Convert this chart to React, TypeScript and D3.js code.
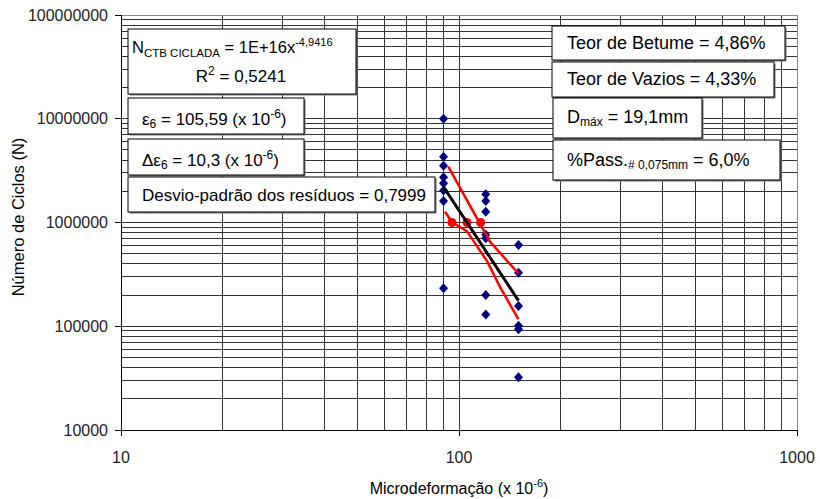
import React from "react";
import * as d3 from "d3";

// Fatigue test results: strain level (microstrain) and cycles to failure
const strain90 = [90, 90, 90, 90, 90, 90, 90, 90];
const cycles90 = [1.0e7, 4.3e6, 3.53e6, 2.73e6, 2.39e6, 2.03e6, 1.61e6, 2.32e5];
const strain120 = [120, 120, 120, 120, 120, 120, 120];
const cycles120 = [1.87e6, 1.61e6, 1.27e6, 7.6e5, 7.05e5, 2.0e5, 1.3e5];
const strain150 = [150, 150, 150, 150, 150, 150];
const cycles150 = [6.07e5, 3.28e5, 1.57e5, 1.01e5, 9.35e4, 3.22e4];

// Fitted power law N = a * x^b
const fitCoef = [1e16, -4.9416];
const fitRange = [90, 150];

// Confidence band limits
const upperBandX = [92.96, 123.5, 149.8];
const upperBandY = [3.45e6, 6.53e5, 3.24e5];
const lowerBandX = [90.9, 95.3, 105.5, 121.3, 132.2, 149.8];
const lowerBandY = [1.27e6, 1.01e6, 8.25e5, 4.2e5, 2.4e5, 1.17e5];

// Strain for 10^6 cycles and its deviation
const eps6 = 105.59;
const deltaEps6 = 10.3;

const xTicks = [10, 100, 1000];
const yTicks = [1e4, 1e5, 1e6, 1e7, 1e8];

const FONT = "'Liberation Sans', Arial, sans-serif";

const W = 820;
const H = 499;
const left = 121;
const right = 797;
const top = 15;
const bottom = 430;

function Box({ x, y, w, h }: { x: number; y: number; w: number; h: number }) {
  return (
    <g>
      <rect x={x + 1.5} y={y + 1.5} width={w} height={h} fill="#777" />
      <rect x={x} y={y} width={w} height={h} fill="#fff" stroke="#000" strokeWidth={1} />
    </g>
  );
}

export default function App() {
  const xScale = d3.scaleLog().domain([10, 1000]).range([left, right]);
  const yScale = d3.scaleLog().domain([1e4, 1e8]).range([bottom, top]);

  // log grid values
  const xGrid: number[] = [];
  for (let d = 10; d < 1000; d *= 10) for (let k = 1; k < 10; k++) xGrid.push(d * k);
  xGrid.push(1000);
  const yGrid: number[] = [];
  for (let d = 1e4; d < 1e8; d *= 10) for (let k = 1; k < 10; k++) yGrid.push(d * k);
  yGrid.push(1e8);

  const points = [
    ...strain90.map((s, i) => [s, cycles90[i]]),
    ...strain120.map((s, i) => [s, cycles120[i]]),
    ...strain150.map((s, i) => [s, cycles150[i]]),
  ];

  const line = d3
    .line<number[]>()
    .x((d) => xScale(d[0]))
    .y((d) => yScale(d[1]));

  const fitPts: number[][] = [];
  const steps = 40;
  for (let i = 0; i <= steps; i++) {
    const xv = fitRange[0] * Math.pow(fitRange[1] / fitRange[0], i / steps);
    fitPts.push([xv, fitCoef[0] * Math.pow(xv, fitCoef[1])]);
  }
  const upper = upperBandX.map((v, i) => [v, upperBandY[i]]);
  const lower = lowerBandX.map((v, i) => [v, lowerBandY[i]]);
  const epsDots = [eps6 - deltaEps6, eps6, eps6 + deltaEps6];

  const diamond = (cx: number, cy: number) =>
    `M${cx},${cy - 5}L${cx + 4.5},${cy}L${cx},${cy + 5}L${cx - 4.5},${cy}Z`;

  return (
    <svg
      width={W}
      height={H}
      style={{ position: "absolute", left: 0, top: 0, display: "block", background: "#fff" }}
      fontFamily={FONT}
    >
      {/* grid */}
      <g stroke="#333" strokeWidth={1} shapeRendering="crispEdges">
        {xGrid.map((v) => (
          <line key={"gx" + v} x1={xScale(v)} x2={xScale(v)} y1={top} y2={bottom} />
        ))}
        {yGrid.map((v) => (
          <line key={"gy" + v} x1={left} x2={right} y1={yScale(v)} y2={yScale(v)} />
        ))}
      </g>
      {/* frame */}
      <rect
        x={left}
        y={top}
        width={right - left}
        height={bottom - top}
        fill="none"
        stroke="#888"
        strokeWidth={1}
        shapeRendering="crispEdges"
      />
      <g stroke="#000" strokeWidth={1} shapeRendering="crispEdges">
        <line x1={left} x2={left} y1={top} y2={bottom} />
        <line x1={left} x2={right} y1={bottom} y2={bottom} />
        {yTicks.map((v) => (
          <line key={"ty" + v} x1={left - 6} x2={left} y1={yScale(v)} y2={yScale(v)} />
        ))}
        {xTicks.map((v) => (
          <line key={"tx" + v} x1={xScale(v)} x2={xScale(v)} y1={bottom} y2={bottom + 6} />
        ))}
      </g>

      {/* tick labels */}
      <g fontSize={16} fill="#222">
        {yTicks.map((v) => (
          <text key={"ly" + v} x={108} y={yScale(v)} textAnchor="end" dominantBaseline="central">
            {String(v)}
          </text>
        ))}
        {xTicks.map((v) => (
          <text key={"lx" + v} x={xScale(v)} y={463} textAnchor="middle">
            {String(v)}
          </text>
        ))}
      </g>

      {/* axis titles */}
      <text x={459} y={494} textAnchor="middle" fontSize={16} fill="#000">
        Microdeformação (x 10
        <tspan fontSize={11} dy={-7}>
          -6
        </tspan>
        <tspan dy={7}>)</tspan>
      </text>
      <text
        transform={`translate(24,217) rotate(-90)`}
        textAnchor="middle"
        fontSize={16.5}
        fill="#000"
      >
        Número de Ciclos (N)
      </text>

      {/* data points */}
      <g fill="#000080">
        {points.map((p, i) => (
          <path key={"p" + i} d={diamond(xScale(p[0]), yScale(p[1]))} />
        ))}
      </g>

      {/* confidence band and fit */}
      <path d={line(upper) || ""} fill="none" stroke="#ff0000" strokeWidth={2.5} />
      <path d={line(lower) || ""} fill="none" stroke="#ff0000" strokeWidth={2.5} />
      <g fill="#ff0000">
        {epsDots.map((v, i) => (
          <circle key={"e" + i} cx={xScale(v)} cy={yScale(1e6)} r={4.5} />
        ))}
      </g>
      <path d={line(fitPts) || ""} fill="none" stroke="#000" strokeWidth={3} />

      {/* annotation boxes */}
      <Box x={128} y={29} w={228} h={65} />
      <text x={132} y={53} fontSize={16.5}>
        N
        <tspan fontSize={11.5} dy={4}>
          CTB CICLADA
        </tspan>
        <tspan dy={-4}> = 1E+16x</tspan>
        <tspan fontSize={11} dy={-7}>
          -4,9416
        </tspan>
      </text>
      <text x={241} y={82} fontSize={17} textAnchor="middle">
        R
        <tspan fontSize={12} dy={-7}>
          2
        </tspan>
        <tspan dy={7}> = 0,5241</tspan>
      </text>

      <Box x={128} y={98} w={176} h={36} />
      <text x={142} y={125} fontSize={17}>
        ε
        <tspan fontSize={12} dy={3}>
          6
        </tspan>
        <tspan dy={-3}> = 105,59 (x 10</tspan>
        <tspan fontSize={12} dy={-7}>
          -6
        </tspan>
        <tspan dy={7}>)</tspan>
      </text>

      <Box x={128} y={139} w={176} h={36} />
      <text x={142} y={166} fontSize={17}>
        Δε
        <tspan fontSize={12} dy={3}>
          6
        </tspan>
        <tspan dy={-3}> = 10,3 (x 10</tspan>
        <tspan fontSize={12} dy={-7}>
          -6
        </tspan>
        <tspan dy={7}>)</tspan>
      </text>

      <Box x={128} y={177} w={307} h={35} />
      <text x={142} y={201} fontSize={17}>
        Desvio-padrão dos resíduos = 0,7999
      </text>

      <Box x={552} y={26} w={233} h={34} />
      <text x={567} y={49} fontSize={18}>
        Teor de Betume = 4,86%
      </text>

      <Box x={552} y={62} w={222} h={35} />
      <text x={567} y={85} fontSize={18}>
        Teor de Vazios = 4,33%
      </text>

      <Box x={553} y={98} w={149} h={40} />
      <text x={567} y={123} fontSize={18}>
        D
        <tspan fontSize={12} dy={3}>
          máx
        </tspan>
        <tspan dy={-3}> = 19,1mm</tspan>
      </text>

      <Box x={553} y={140} w={227} h={40} />
      <text x={567} y={166} fontSize={18}>
        %Pass.
        <tspan fontSize={12} dy={3}>
          # 0,075mm
        </tspan>
        <tspan dy={-3}> = 6,0%</tspan>
      </text>
    </svg>
  );
}
